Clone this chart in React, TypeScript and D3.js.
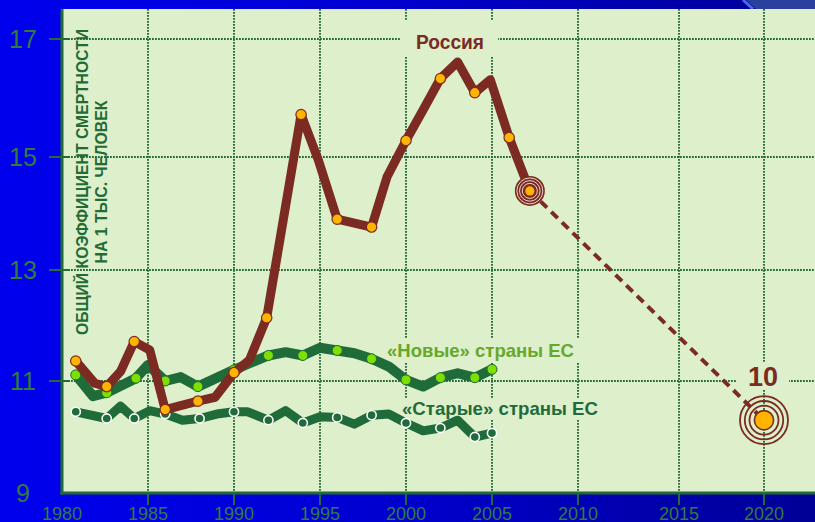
import * as d3 from "d3";

// Russia: crude death rate per 1000, markers flagged with 1
const russiaYears = [1980.8, 1981.9, 1982.6, 1983.4, 1984.2, 1985.1, 1986, 1987.9, 1988.9, 1990, 1990.9, 1991.9, 1992.9, 1993.9, 1994.9, 1996, 1997, 1998, 1998.9, 2000, 2001, 2002, 2003, 2004, 2004.9, 2006, 2007.2];
const russiaValues = [11.36, 10.96, 10.9, 11.17, 11.71, 11.56, 10.49, 10.64, 10.71, 11.15, 11.38, 12.14, 13.95, 15.72, 14.95, 13.9, 13.83, 13.76, 14.65, 15.28, 15.8, 16.33, 16.61, 16.09, 16.31, 15.33, 14.4];
const russiaMarks = [1, 0, 1, 0, 1, 0, 1, 1, 0, 1, 0, 1, 0, 1, 0, 1, 0, 1, 0, 1, 0, 1, 0, 1, 0, 1, 0];

// "new" EU members
const newEuYears = [1980.8, 1981.8, 1982.6, 1984.3, 1985, 1986, 1986.9, 1987.9, 1990, 1990.9, 1992, 1993, 1994, 1995, 1996, 1997, 1998, 1999, 2000, 2001, 2002, 2003, 2004, 2005];
const newEuValues = [11.11, 10.73, 10.79, 11.05, 11.29, 11.0, 11.07, 10.9, 11.2, 11.32, 11.46, 11.52, 11.46, 11.6, 11.55, 11.5, 11.4, 11.26, 11.02, 10.9, 11.06, 11.14, 11.06, 11.21];
const newEuMarks = [1, 0, 1, 1, 0, 1, 0, 1, 1, 0, 1, 0, 1, 0, 1, 0, 1, 0, 1, 0, 1, 0, 1, 1];

// "old" EU members
const oldEuYears = [1980.8, 1982.6, 1983.4, 1984.2, 1985.1, 1986, 1987, 1988, 1989, 1990, 1990.8, 1992, 1993, 1994, 1995, 1996, 1997, 1998, 1999, 2000, 2001, 2002, 2003, 2004, 2005];
const oldEuValues = [10.45, 10.33, 10.55, 10.33, 10.47, 10.41, 10.3, 10.33, 10.41, 10.45, 10.45, 10.3, 10.47, 10.25, 10.36, 10.35, 10.23, 10.39, 10.41, 10.25, 10.11, 10.16, 10.3, 10.0, 10.07];
const oldEuMarks = [1, 1, 0, 1, 0, 1, 0, 1, 0, 1, 0, 1, 0, 1, 0, 1, 0, 1, 0, 1, 0, 1, 0, 1, 1];

// forecast: last observed point -> 2020 target
const forecastYears = [2007.2, 2020];
const forecastValues = [14.4, 10.3];
const targetLabel = "10";

const yTicks = [9, 11, 13, 15, 17];
const yGrid = [11, 13, 15, 17];
const xTicks = [1980, 1985, 1990, 1995, 2000, 2005, 2010, 2015, 2020];
const xGrid = [1985, 1990, 1995, 2000, 2005, 2010, 2015, 2020];

const W = 815;
const H = 522;
const plot = { left: 62, top: 9, right: 815, bottom: 493 };

const PLOT_BG = "#ddefcb";
const GRID = "#256a3a";
const AXIS = "#236b35";
const TICK_TXT = "#2f7d3c";
const BROWN = "#7b2b22";
const ORANGE = "#ffb400";
const DKGREEN = "#1f6b3a";
const LTGREEN = "#7ee000";
const FONT = "'Liberation Sans', Arial, sans-serif";

// the hand-drawn axes are slightly uneven, so piecewise scales
const x = d3.scaleLinear().domain([1980, 2010, 2015, 2020]).range([62, 578, 679, 764]);
const y = d3.scaleLinear().domain([9, 11, 13, 15, 17]).range([493, 381, 270, 157, 39]);

type Pt = { yr: number; v: number; m: number };
const zip = (ys: number[], vs: number[], ms: number[]): Pt[] => ys.map((yr, i) => ({ yr, v: vs[i], m: ms[i] }));

const line = d3.line<Pt>().x((d) => x(d.yr)).y((d) => y(d.v));

const russia = zip(russiaYears, russiaValues, russiaMarks);
const newEu = zip(newEuYears, newEuValues, newEuMarks);
const oldEu = zip(oldEuYears, oldEuValues, oldEuMarks);
const forecast = zip(forecastYears, forecastValues, [0, 0]);

export default function App() {
  const start = forecast[0];
  const end = forecast[1];
  return (
    <div style={{ position: "fixed", left: 0, top: 0 }}>
      <svg width={W} height={H} style={{ display: "block" }} fontFamily={FONT}>
        <defs>
          <linearGradient id="bg" x1="0" x2="1" y1="0" y2="0">
            <stop offset="0" stopColor="#0000ee" />
            <stop offset="0.45" stopColor="#0000d2" />
            <stop offset="1" stopColor="#000096" />
          </linearGradient>
        </defs>
        <rect width={W} height={H} fill="url(#bg)" />
        <polygon points="746,0 815,0 815,9 756,9" fill="#2a3f9e" />
        <line x1={743} y1={0} x2={753} y2={9} stroke="#4a6ae8" strokeWidth={3} />

        <rect x={plot.left} y={plot.top} width={plot.right - plot.left} height={plot.bottom - plot.top} fill={PLOT_BG} />

        {/* grid */}
        {yGrid.map((t) => (
          <g key={"yg" + t}>
            <line x1={plot.left} x2={plot.right} y1={y(t)} y2={y(t)} stroke={GRID} strokeWidth={1.9} strokeDasharray="1.8,1.2" />
            <line x1={49} x2={plot.left + 8} y1={y(t)} y2={y(t)} stroke={AXIS} strokeWidth={2} />
          </g>
        ))}
        {xGrid.map((t) => (
          <g key={"xg" + t}>
            <line x1={x(t)} x2={x(t)} y1={plot.top} y2={plot.bottom} stroke={GRID} strokeWidth={1.9} strokeDasharray="1.8,1.2" />
            <line x1={x(t)} x2={x(t)} y1={plot.bottom} y2={plot.bottom + 12} stroke={AXIS} strokeWidth={2} />
          </g>
        ))}

        {/* label backgrounds cut the grid */}
        <rect x={400} y={21} width={98} height={36} fill={PLOT_BG} />
        <rect x={737} y={362} width={52} height={27} fill={PLOT_BG} />
        <rect x={383} y={338} width={198} height={24} fill={PLOT_BG} />
        <rect x={398} y={398} width={204} height={22} fill={PLOT_BG} />

        {/* axes */}
        <line x1={plot.left} x2={plot.left} y1={plot.top} y2={plot.bottom + 1.5} stroke={AXIS} strokeWidth={3} />
        <line x1={plot.left - 1.5} x2={plot.right} y1={plot.bottom} y2={plot.bottom} stroke={AXIS} strokeWidth={3} />

        {yTicks.map((t) => (
          <text key={"yt" + t} x={23} y={y(t)} dy="0.36em" textAnchor="middle" fontSize={25} fill={TICK_TXT}>{t}</text>
        ))}
        {xTicks.map((t) => (
          <text key={"xt" + t} x={x(t)} y={519.5} textAnchor="middle" fontSize={18} fill={TICK_TXT}>{t}</text>
        ))}

        {/* y title */}
        <text transform="translate(88,182) rotate(-90)" textAnchor="middle" fontSize={17} fontWeight="bold" fill={AXIS} textLength={306} lengthAdjust="spacingAndGlyphs">
          ОБЩИЙ КОЭФФИЦИЕНТ СМЕРТНОСТИ
        </text>
        <text transform="translate(107,182) rotate(-90)" textAnchor="middle" fontSize={16.5} fontWeight="bold" fill={AXIS} textLength={163} lengthAdjust="spacingAndGlyphs">
          НА 1 ТЫС. ЧЕЛОВЕК
        </text>

        {/* old EU */}
        <path d={line(oldEu) ?? ""} fill="none" stroke={DKGREEN} strokeWidth={9} strokeLinejoin="round" strokeLinecap="round" />
        {oldEu.filter((d) => d.m).map((d, i) => (
          <circle key={"o" + i} cx={x(d.yr)} cy={y(d.v)} r={4.6} fill={DKGREEN} stroke="#ffffff" strokeWidth={1.6} />
        ))}

        {/* new EU */}
        <path d={line(newEu) ?? ""} fill="none" stroke={DKGREEN} strokeWidth={10} strokeLinejoin="round" strokeLinecap="round" />
        {newEu.filter((d) => d.m).map((d, i) => (
          <circle key={"n" + i} cx={x(d.yr)} cy={y(d.v)} r={5} fill={LTGREEN} stroke={DKGREEN} strokeWidth={1} />
        ))}

        {/* forecast */}
        <path d={line(forecast) ?? ""} fill="none" stroke={BROWN} strokeWidth={4} strokeDasharray="9,6" />

        {/* Russia */}
        <path d={line(russia) ?? ""} fill="none" stroke={BROWN} strokeWidth={9} strokeLinejoin="round" strokeLinecap="round" />
        {russia.filter((d) => d.m).map((d, i) => (
          <circle key={"r" + i} cx={x(d.yr)} cy={y(d.v)} r={5.2} fill={ORANGE} stroke={BROWN} strokeWidth={1.2} />
        ))}

        {/* current value target */}
        <g transform={`translate(${x(start.yr)},${y(start.v)})`}>
          <circle r={15} fill={BROWN} />
          {[7.5, 10.3, 13].map((r) => (
            <circle key={r} r={r} fill="none" stroke="#e9d6c6" strokeWidth={1} />
          ))}
          <circle r={4.6} fill={ORANGE} />
        </g>

        {/* 2020 target */}
        <g transform={`translate(${x(end.yr)},${y(end.v)})`}>
          {[14.5, 19.2, 24].map((r) => (
            <circle key={r} r={r} fill="none" stroke={BROWN} strokeWidth={1.8} />
          ))}
          <circle r={9.6} fill={ORANGE} stroke={BROWN} strokeWidth={1.6} />
        </g>

        {/* labels */}
        <text x={450} y={48.5} textAnchor="middle" fontSize={19.5} fontWeight="bold" fill={BROWN} textLength={68} lengthAdjust="spacingAndGlyphs">Россия</text>
        <text x={763} y={386} textAnchor="middle" fontSize={27} fontWeight="bold" fill={BROWN}>{targetLabel}</text>
        <text x={387} y={357} fontSize={18.5} fontWeight="bold" fill="#66a82a" textLength={187} lengthAdjust="spacingAndGlyphs">«Новые» страны ЕС</text>
        <text x={402} y={415} fontSize={18.5} fontWeight="bold" fill={DKGREEN} textLength={196} lengthAdjust="spacingAndGlyphs">«Старые» страны ЕС</text>
      </svg>
    </div>
  );
}
